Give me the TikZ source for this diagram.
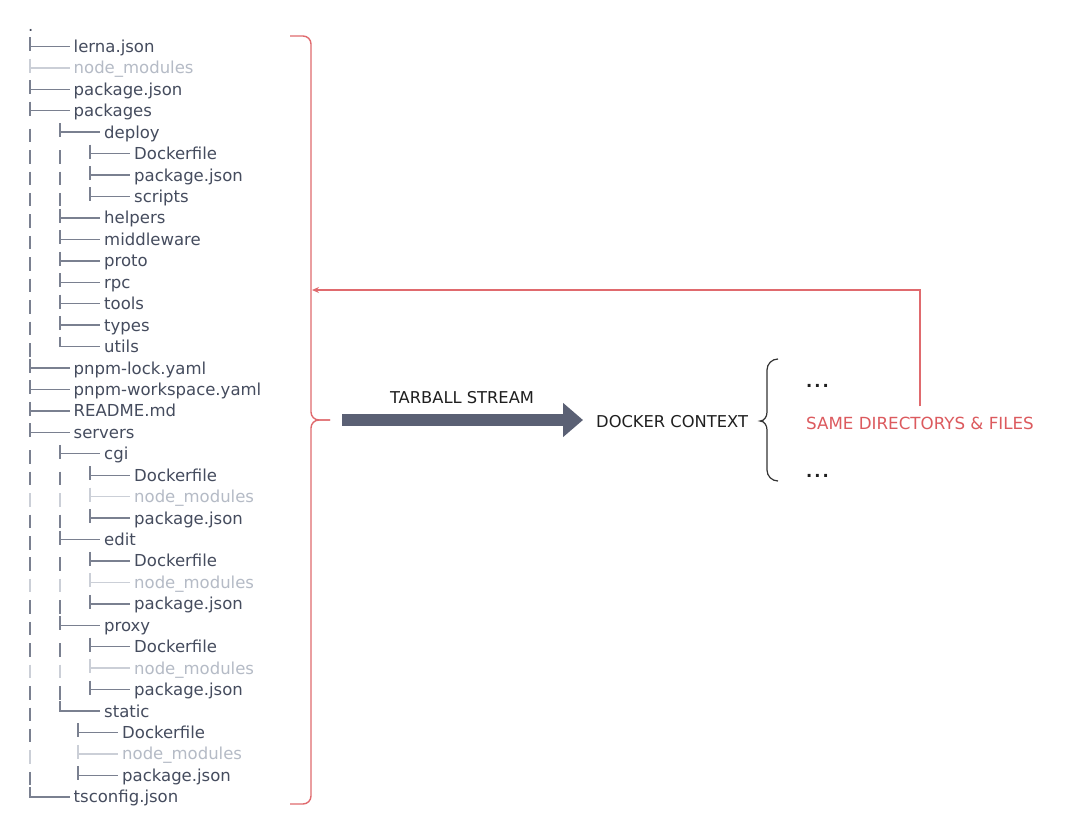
\documentclass[tikz,border=0pt]{standalone}
\usepackage{fontspec}
\setmainfont{DejaVu Sans}
\usetikzlibrary{arrows.meta}
\definecolor{treetext}{HTML}{454C5E}
\definecolor{treeline}{HTML}{7A8090}
\definecolor{fadetext}{HTML}{B5BBC6}
\definecolor{fadeline}{HTML}{CBCFD7}
\definecolor{redl}{HTML}{E06A6E}
\definecolor{redt}{HTML}{DC5A5E}
\definecolor{arrowc}{HTML}{5A6074}
\newcommand\tTee[3]{\draw[#3line] (#1,#2-9) -- (#1,#2+5) (#1,#2) -- (#1+40,#2);}
\newcommand\tElb[3]{\draw[#3line] (#1,#2-10) -- (#1,#2) -- (#1+40,#2);}
\newcommand\tPipe[3]{\draw[#3line] (#1,#2-3.5) -- (#1,#2+10);}
\newcommand\kindA[2]{\tTee{30}{#1}{#2}\def\tx{73.5}}
\newcommand\kindAz[2]{\tElb{30}{#1}{#2}\def\tx{73.5}}
\newcommand\kindB[2]{\tPipe{30}{#1}{#2}\tTee{60}{#1}{#2}\def\tx{104}}
\newcommand\kindBz[2]{\tPipe{30}{#1}{#2}\tElb{60}{#1}{#2}\def\tx{104}}
\newcommand\kindC[2]{\tPipe{30}{#1}{#2}\tPipe{60}{#1}{#2}\tTee{90}{#1}{#2}\def\tx{134}}
\newcommand\kindD[2]{\tPipe{30}{#1}{#2}\tTee{78}{#1}{#2}\def\tx{122}}
\begin{document}
\begin{tikzpicture}[x=1pt,y=-1pt,
  nline/.style={draw=treeline,line width=1.4pt},
  fline/.style={draw=fadeline,line width=1.4pt},
  ntext/.style={text=treetext,inner sep=0pt,font=\fontsize{16.5}{19}\selectfont},
  ftext/.style={text=fadetext,inner sep=0pt,font=\fontsize{16.5}{19}\selectfont},
  lbl/.style={text=black!88,inner sep=0pt,font=\fontsize{16.3}{19}\selectfont},
  redline/.style={draw=redl,line width=1.4pt},
  thickarrow/.style={draw=arrowc,line width=12pt,-{Triangle[length=20pt,width=33pt]}}]
\useasboundingbox (0,0) rectangle (1080,830);
\fill[white] (0,0) rectangle (1080,830);
% root
\node[ntext,anchor=base west] (root) at (28,31) {.};
% tree rows
\foreach \i/\k/\t/\s in {
0/A/lerna.json/n,
1/A/node\_modules/f,
2/A/package.json/n,
3/A/packages/n,
4/B/deploy/n,
5/C/Dockerfile/n,
6/C/package.json/n,
7/C/scripts/n,
8/B/helpers/n,
9/B/middleware/n,
10/B/proto/n,
11/B/rpc/n,
12/B/tools/n,
13/B/types/n,
14/Bz/utils/n,
15/A/pnpm-lock.yaml/n,
16/A/pnpm-workspace.yaml/n,
17/A/README.md/n,
18/A/servers/n,
19/B/cgi/n,
20/C/Dockerfile/n,
21/C/node\_modules/f,
22/C/package.json/n,
23/B/edit/n,
24/C/Dockerfile/n,
25/C/node\_modules/f,
26/C/package.json/n,
27/B/proxy/n,
28/C/Dockerfile/n,
29/C/node\_modules/f,
30/C/package.json/n,
31/Bz/static/n,
32/D/Dockerfile/n,
33/D/node\_modules/f,
34/D/package.json/n,
35/Az/tsconfig.json/n}{
  \pgfmathsetmacro\y{46.4+21.44*\i}
  \csname kind\k\endcsname{\y}{\s}
  \node[\s text,anchor=base west] (r\i) at (\tx,\y+6) {\t};
}
% red brace
\coordinate (bt) at (330,420);
\draw[redline,rounded corners=8pt] (290,36) -- (311,36) -- (311,420) -- (bt);
\draw[redline,rounded corners=8pt] (bt) -- (311,420) -- (311,804) -- (290,804);
% labels
\node[lbl,anchor=base] (tar) at (462,403) {TARBALL STREAM};
\node[lbl,anchor=base west] (docker) at (596,427) {DOCKER CONTEXT};
\coordinate (at) at (bt -| docker.west);
\draw[thickarrow] ([xshift=12pt]bt) -- ([xshift=-13pt]at);
% black brace
\coordinate (dbt) at (760,421);
\draw[black!80,line width=1.2pt] (778,359) to[out=180,in=90] (767,370) -- (767,412)
  to[out=-90,in=0] (dbt) to[out=0,in=90] (767,430) -- (767,470) to[out=-90,in=180] (778,481);
\node[lbl,anchor=base west] (dots1) at (806,387) {\bfseries .\kern2pt.\kern2pt.};
\node[lbl,anchor=base west,text=redt,font=\fontsize{16.7}{19}\selectfont] (same) at (806,429) {SAME DIRECTORYS \& FILES};
\node[lbl,anchor=base west] (dots2) at (806,477) {\bfseries .\kern2pt.\kern2pt.};
% red return connector
\coordinate (rb) at (312,290);
\draw[redline,-{Stealth[length=7pt,width=6pt]}] ([yshift=10pt]same.north) |- (rb);
\end{tikzpicture}
\end{document}
